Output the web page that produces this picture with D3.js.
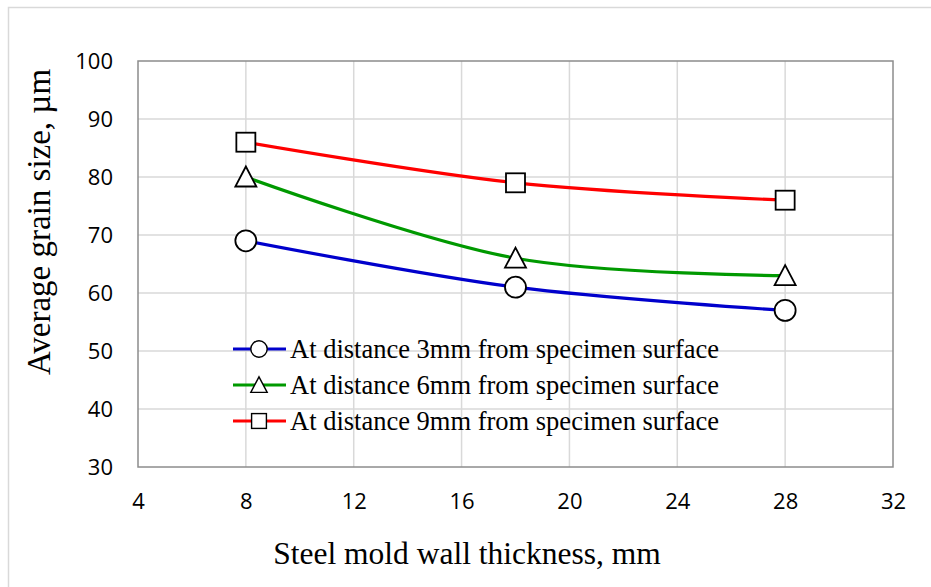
<!DOCTYPE html>
<html>
<head>
<meta charset="utf-8">
<script src="https://cdn.jsdelivr.net/npm/d3@7"></script>
<style>
  body { margin: 0; background: #fff; }
  .tick text { font-family: "Open Sans", sans-serif; font-size: 22px; fill: #000; }
  .title { font-family: "Liberation Serif", "Times New Roman", serif; fill: #000; }
  .legend text { font-family: "Liberation Serif", "Times New Roman", serif; font-size: 26.5px; fill: #000; }
</style>
</head>
<body>
<div id="chart"></div>
<script>
var width = 931;
var height = 587;

// data
var thickness = [8, 18, 28];
var at3mm = [69, 61, 57];
var at6mm = [80, 66, 63];
var at9mm = [86, 79, 76];
var seriesNames = [
  "At distance 3mm from specimen surface",
  "At distance 6mm from specimen surface",
  "At distance 9mm from specimen surface"
];
var seriesColors = ["#0000cc", "#009900", "#ff0000"];
var seriesMarkers = ["circle", "triangle", "square"];
var xTicks = [4, 8, 12, 16, 20, 24, 28, 32];
var yTicks = [30, 40, 50, 60, 70, 80, 90, 100];

var series = [at3mm, at6mm, at9mm].map(function(vals, i) {
  return {
    name: seriesNames[i],
    color: seriesColors[i],
    marker: seriesMarkers[i],
    points: vals.map(function(v, j) { return { x: thickness[j], y: v }; })
  };
});

var plot = { left: 138, right: 893, top: 61, bottom: 467 };

var svg = d3.select("#chart").append("svg")
  .attr("width", width)
  .attr("height", height);

// chart area border (only top and left are inside the picture)
svg.append("path")
  .attr("d", "M8.5," + height + "V7.5H" + width)
  .attr("fill", "none")
  .attr("stroke", "#d9d9d9")
  .attr("stroke-width", 1.5);

var x = d3.scaleLinear().domain([4, 32]).range([plot.left, plot.right]);
var y = d3.scaleLinear().domain([30, 100]).range([plot.bottom, plot.top]);

// grid
svg.append("g").selectAll("line").data(xTicks.slice(1, -1)).enter().append("line")
  .attr("x1", function(d) { return x(d); }).attr("x2", function(d) { return x(d); })
  .attr("y1", plot.top).attr("y2", plot.bottom)
  .attr("stroke", "#d9d9d9").attr("stroke-width", 1.5);
svg.append("g").selectAll("line").data(yTicks.slice(1, -1)).enter().append("line")
  .attr("x1", plot.left).attr("x2", plot.right)
  .attr("y1", function(d) { return y(d); }).attr("y2", function(d) { return y(d); })
  .attr("stroke", "#d9d9d9").attr("stroke-width", 1.5);

// plot border
svg.append("rect")
  .attr("x", plot.left).attr("y", plot.top)
  .attr("width", plot.right - plot.left).attr("height", plot.bottom - plot.top)
  .attr("fill", "none")
  .attr("stroke", "#8c8c8c").attr("stroke-width", 1.5);

// axes (labels only)
var xAxis = svg.append("g")
  .attr("transform", "translate(0," + plot.bottom + ")")
  .call(d3.axisBottom(x).tickValues(xTicks).tickSize(0).tickPadding(26));
xAxis.select(".domain").remove();

var yAxis = svg.append("g")
  .attr("transform", "translate(" + plot.left + ",0)")
  .call(d3.axisLeft(y).tickValues(yTicks).tickSize(0).tickPadding(25));
yAxis.select(".domain").remove();

svg.append("text").attr("class", "title")
  .attr("x", 467).attr("y", 564)
  .attr("text-anchor", "middle")
  .style("font-size", "31.5px")
  .text("Steel mold wall thickness, mm");

svg.append("text").attr("class", "title")
  .attr("transform", "translate(50,222) rotate(-90)")
  .attr("text-anchor", "middle")
  .style("font-size", "33px")
  .text("Average grain size, µm");

var line = d3.line()
  .x(function(d) { return x(d.x); })
  .y(function(d) { return y(d.y); })
  .curve(d3.curveCatmullRom.alpha(0.5));

function drawMarker(g, type) {
  if (type === "circle") {
    g.append("circle").attr("r", 10.5);
  } else if (type === "triangle") {
    g.append("path").attr("d", "M0,-10.5L10.5,9.5L-10.5,9.5Z");
  } else {
    g.append("rect").attr("x", -9.5).attr("y", -9.5).attr("width", 19).attr("height", 19);
  }
  g.selectAll("*").attr("fill", "#fff").attr("stroke", "#000").attr("stroke-width", 1.8);
}

series.forEach(function(s) {
  svg.append("path")
    .datum(s.points)
    .attr("d", line)
    .attr("fill", "none")
    .attr("stroke", s.color)
    .attr("stroke-width", 3.2);

  s.points.forEach(function(p) {
    var g = svg.append("g").attr("transform", "translate(" + x(p.x) + "," + y(p.y) + ")");
    drawMarker(g, s.marker);
  });
});

// legend
var legend = svg.append("g").attr("class", "legend");
series.forEach(function(s, i) {
  var ly = 349 + i * 36;
  var g = legend.append("g");
  g.append("line")
    .attr("x1", 233).attr("x2", 286)
    .attr("y1", ly).attr("y2", ly)
    .attr("stroke", s.color).attr("stroke-width", 3.2);
  var m = g.append("g");
  drawMarker(m, s.marker);
  m.attr("transform", "translate(259," + ly + ") scale(0.78)");
  g.append("text")
    .attr("x", 290).attr("y", ly + 9)
    .text(s.name);
});
</script>
</body>
</html>
